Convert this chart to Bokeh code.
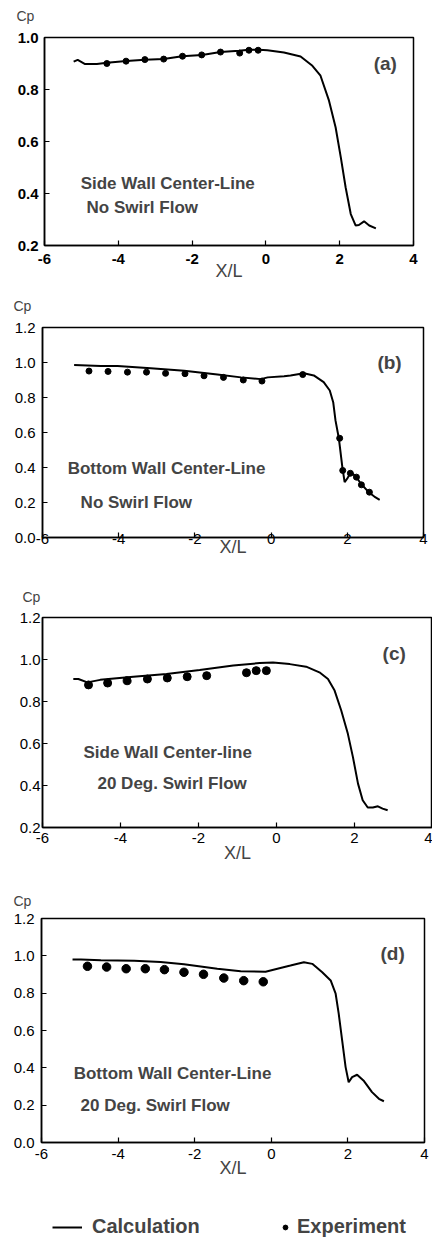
import numpy as np
from bokeh.plotting import figure
from bokeh.models import Range1d, FixedTicker, Label, Legend, LegendItem
from bokeh.embed import file_html
from bokeh.resources import INLINE

# ---------------- data ----------------
x_ticks = [-6, -4, -2, 0, 2, 4]
x_tick_labels = ["-6", "-4", "-2", "0", "2", "4"]
y_ticks_a = [0.2, 0.4, 0.6, 0.8, 1.0]
y_labels_a = ["0.2", "0.4", "0.6", "0.8", "1.0"]
y_ticks_c = [0.2, 0.4, 0.6, 0.8, 1.0, 1.2]
y_labels_c = ["0.2", "0.4", "0.6", "0.8", "1.0", "1.2"]
y_ticks_bd = [0.0, 0.2, 0.4, 0.6, 0.8, 1.0, 1.2]
y_labels_bd = ["0.0", "0.2", "0.4", "0.6", "0.8", "1.0", "1.2"]

# (a) Side wall, no swirl
xa = [-5.21, -5.10, -4.90, -4.58, -4.31, -3.78, -3.28, -2.77, -2.27, -1.73, -1.23, -0.73, -0.46, -0.19,
      0.04, 0.49, 0.94, 1.26, 1.48, 1.71, 1.89, 2.03, 2.16, 2.30, 2.43, 2.52, 2.66, 2.80, 2.98]
ya = [0.907, 0.914, 0.898, 0.898, 0.903, 0.910, 0.914, 0.917, 0.928, 0.933, 0.944, 0.949, 0.953, 0.953,
      0.951, 0.942, 0.927, 0.891, 0.853, 0.757, 0.654, 0.539, 0.424, 0.321, 0.277, 0.279, 0.293, 0.277, 0.266]
xa_exp = [-4.31, -3.79, -3.28, -2.77, -2.26, -1.74, -1.23, -0.71, -0.46, -0.21]
ya_exp = [0.900, 0.909, 0.915, 0.917, 0.928, 0.933, 0.944, 0.940, 0.951, 0.951]

# (b) Bottom wall, no swirl
xb = [-5.17, -4.47, -4.03, -3.16, -2.28, -1.41, -0.79, -0.27, -0.09, 0.34, 0.51, 0.86, 1.12, 1.38,
      1.54, 1.63, 1.69, 1.78, 1.87, 1.93, 2.01, 2.10, 2.22, 2.36, 2.56, 2.71, 2.85]
yb = [0.986, 0.980, 0.980, 0.967, 0.953, 0.932, 0.915, 0.905, 0.915, 0.922, 0.926, 0.939, 0.926, 0.888,
      0.840, 0.773, 0.669, 0.564, 0.402, 0.316, 0.341, 0.373, 0.349, 0.307, 0.259, 0.234, 0.215]
xb_exp = [-4.78, -4.28, -3.77, -3.27, -2.77, -2.26, -1.76, -1.25, -0.73, -0.24, 0.83, 1.80, 1.88,
          2.08, 2.24, 2.37, 2.58]
yb_exp = [0.951, 0.949, 0.945, 0.945, 0.938, 0.936, 0.924, 0.915, 0.900, 0.894, 0.931, 0.567, 0.383,
          0.367, 0.345, 0.301, 0.259]

# (c) Side wall, 20 deg swirl
xc = [-5.21, -5.08, -4.85, -4.52, -3.67, -2.82, -1.97, -1.11, -0.43, -0.09, 0.34, 0.76, 1.10, 1.32,
      1.49, 1.66, 1.83, 1.96, 2.09, 2.21, 2.34, 2.47, 2.60, 2.72, 2.85]
yc = [0.907, 0.907, 0.891, 0.903, 0.918, 0.931, 0.950, 0.971, 0.983, 0.986, 0.978, 0.966, 0.939, 0.907,
      0.852, 0.757, 0.646, 0.535, 0.409, 0.330, 0.295, 0.295, 0.301, 0.290, 0.282]
xc_exp = [-4.82, -4.33, -3.83, -3.31, -2.80, -2.29, -1.79, -0.77, -0.52, -0.26]
yc_exp = [0.879, 0.888, 0.899, 0.907, 0.912, 0.918, 0.923, 0.937, 0.947, 0.947]

# (d) Bottom wall, 20 deg swirl
xd = [-5.19, -4.97, -4.45, -3.58, -2.89, -2.28, -1.41, -0.80, -0.15, 0.16, 0.50, 0.85, 1.07, 1.33,
      1.55, 1.68, 1.76, 1.85, 1.94, 2.02, 2.11, 2.24, 2.42, 2.63, 2.81, 2.94]
yd = [0.981, 0.980, 0.976, 0.973, 0.967, 0.955, 0.931, 0.917, 0.915, 0.931, 0.948, 0.966, 0.957, 0.912,
      0.868, 0.797, 0.690, 0.547, 0.404, 0.323, 0.350, 0.363, 0.329, 0.270, 0.234, 0.221]
xd_exp = [-4.80, -4.30, -3.79, -3.29, -2.79, -2.28, -1.77, -1.24, -0.72, -0.21]
yd_exp = [0.944, 0.940, 0.931, 0.931, 0.926, 0.912, 0.901, 0.881, 0.867, 0.861]

legend_labels = ["Calculation", "Experiment"]
y_axis_title = "Cp"
x_axis_title = "X/L"

FONT = "Liberation Sans"
W = 432


def strip(h):
    s = figure(width=W, height=h, output_backend="svg", toolbar_location=None,
               x_range=Range1d(0, W), y_range=Range1d(0, h),
               x_axis_location=None, y_axis_location=None,
               min_border_left=0, min_border_right=0, min_border_top=0, min_border_bottom=0,
               background_fill_color="white", border_fill_color="white")
    s.grid.visible = False
    s.outline_line_color = None
    return s


def cp_strip(h, x, y):
    s = strip(h)
    s.add_layout(Label(x=x, y=y, text=y_axis_title, text_font=FONT, text_font_size="14px",
                       text_baseline="middle", text_align="left"))
    return s


def make_panel(h, bl, br, bt, bb, y0, y1, yt, ylab, xs, ys, xe, ye, dot, tag, tag_xy,
               texts, tick_bold, xstand, ystand, xlab_stand):
    p = figure(width=W, height=h, output_backend="svg", toolbar_location=None,
               x_range=Range1d(-6, 4), y_range=Range1d(y0, y1),
               min_border_left=bl, min_border_right=br, min_border_top=bt, min_border_bottom=bb,
               background_fill_color="white", border_fill_color="white")
    p.grid.visible = False
    p.outline_line_color = "black"
    p.outline_line_width = 1.5
    p.xaxis.ticker = FixedTicker(ticks=x_ticks)
    p.yaxis.ticker = FixedTicker(ticks=yt)
    p.xaxis.major_label_overrides = dict(zip(x_ticks, x_tick_labels))
    p.yaxis.major_label_overrides = dict(zip(yt, ylab))
    for ax in (p.xaxis[0], p.yaxis[0]):
        ax.minor_tick_line_color = None
        ax.major_tick_in = 5
        ax.major_tick_out = 0
        ax.axis_line_width = 1.5
        ax.major_tick_line_width = 1.2
        ax.major_label_text_font = FONT
        ax.major_label_text_font_size = "15px"
        ax.major_label_text_font_style = "bold" if tick_bold else "normal"
        ax.major_label_text_color = "black"
    p.xaxis.major_label_standoff = xstand
    p.yaxis.major_label_standoff = ystand
    p.xaxis.axis_label = x_axis_title
    p.xaxis.axis_label_text_font = FONT
    p.xaxis.axis_label_text_font_size = "18px"
    p.xaxis.axis_label_text_font_style = "normal"
    p.xaxis.axis_label_standoff = xlab_stand

    p.line(xs, ys, line_color="black", line_width=2)
    p.scatter(xe, ye, size=dot, marker="circle", fill_color="black", line_color="black")

    p.add_layout(Label(x=tag_xy[0], y=tag_xy[1], text=tag, text_font=FONT, text_font_size="19px",
                       text_font_style="bold", text_baseline="middle", text_align="left"))
    for (tx, ty, tt) in texts:
        p.add_layout(Label(x=tx, y=ty, text=tt, text_font=FONT, text_font_size="17px",
                           text_font_style="bold", text_baseline="middle", text_align="left"))
    return p


hdr_a = cp_strip(25, 16, 10)
pa = make_panel(270, 44, 19, 12, 50, 0.2, 1.0, y_ticks_a, y_labels_a, xa, ya, xa_exp, ya_exp,
                6, "(a)", (2.92, 0.90),
                [(-5.02, 0.438, "Side Wall Center-Line"), (-4.86, 0.346, "No Swirl Flow")],
                True, 8, 6, -6)
hdr_b = cp_strip(23, 13, 13)
pb = make_panel(266, 42, 9, 9, 47, 0.0, 1.2, y_ticks_bd, y_labels_bd, xb, yb, xb_exp, yb_exp,
                6, "(b)", (2.79, 1.0),
                [(-5.34, 0.394, "Bottom Wall Center-Line"), (-5.00, 0.20, "No Swirl Flow")],
                False, -4, 7, -10)
hdr_c = cp_strip(24, 22, 12)
pc = make_panel(282, 42, 0, 9, 63, 0.2, 1.2, y_ticks_c, y_labels_c, xc, yc, xc_exp, yc_exp,
                8, "(c)", (2.72, 1.029),
                [(-4.95, 0.557, "Side Wall Center-line"), (-4.59, 0.410, "20 Deg. Swirl Flow")],
                False, 5, 2, -3)
hdr_d = cp_strip(20, 13, 10)
pd_ = make_panel(290, 41, 8, 8, 58, 0.0, 1.2, y_ticks_bd, y_labels_bd, xd, yd, xd_exp, yd_exp,
                 8.5, "(d)", (2.85, 1.01),
                 [(-5.16, 0.370, "Bottom Wall Center-Line"), (-4.98, 0.198, "20 Deg. Swirl Flow")],
                 False, 6, 7, -4)

# legend strip (sample renderers hold no visible data)
pl = strip(41)
r_line = pl.line(np.array([np.nan]), np.array([np.nan]), line_color="black", line_width=2)
r_dot = pl.scatter(np.array([np.nan]), np.array([np.nan]), size=7, marker="circle",
                   fill_color="black", line_color="black")
leg1 = Legend(items=[LegendItem(label=legend_labels[0], renderers=[r_line])], location=(52, 3),
              glyph_width=30, glyph_height=20, label_standoff=10, padding=0, margin=0,
              border_line_color=None, background_fill_alpha=0,
              label_text_font=FONT, label_text_font_size="20px", label_text_font_style="bold")
leg2 = Legend(items=[LegendItem(label=legend_labels[1], renderers=[r_dot])], location=(279, 3),
              glyph_width=12, glyph_height=20, label_standoff=6, padding=0, margin=0,
              border_line_color=None, background_fill_alpha=0,
              label_text_font=FONT, label_text_font_size="20px", label_text_font_style="bold")
pl.add_layout(leg1, "center")
pl.add_layout(leg2, "center")

roots = [hdr_a, pa, hdr_b, pb, hdr_c, pc, hdr_d, pd_, pl]
open("out.html", "w").write(file_html(roots, INLINE))
